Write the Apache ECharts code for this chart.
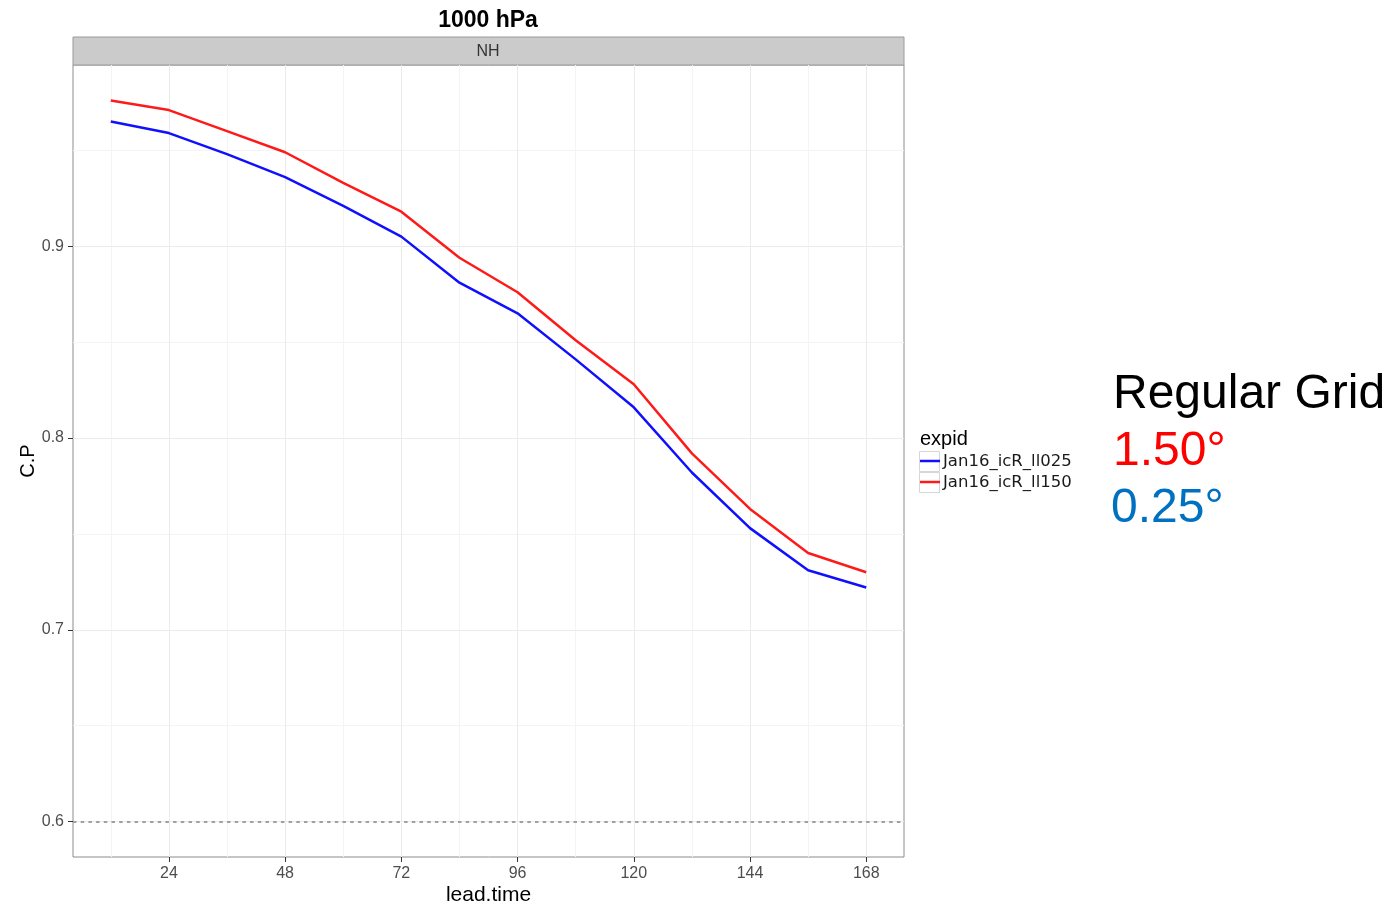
<!DOCTYPE html>
<html>
<head>
<meta charset="utf-8">
<script src="https://cdn.jsdelivr.net/npm/echarts@6/dist/echarts.min.js"></script>
<style>
  html, body { margin: 0; padding: 0; background: #fff; }
  #main { width: 1397px; height: 904px; }
</style>
</head>
<body>
<div id="main"></div>
<script>
// lead times (hours) and C.P scores
var leadTime = [12, 24, 36, 48, 60, 72, 84, 96, 108, 120, 132, 144, 156, 168];
var cpLl025 = [0.965, 0.959, 0.948, 0.936, 0.921, 0.905, 0.881, 0.865, 0.841, 0.816, 0.782, 0.753, 0.731, 0.722];
var cpLl150 = [0.976, 0.971, 0.960, 0.949, 0.933, 0.918, 0.894, 0.876, 0.851, 0.828, 0.792, 0.763, 0.740, 0.730];

var seriesNames = ['Jan16_icR_ll025', 'Jan16_icR_ll150'];
var seriesColors = ['#1010ff', '#ff1a1a'];

var xTicks = [24, 48, 72, 96, 120, 144, 168];
var xMinor = [12, 36, 60, 84, 108, 132, 156];
var yTicks = [0.6, 0.7, 0.8, 0.9];
var yMinor = [0.65, 0.75, 0.85, 0.95];
var refLine = 0.6;

var FONT = 'Liberation Sans, Arial, sans-serif';

function pairs(xs, ys) {
  return xs.map(function (x, i) { return [x, ys[i]]; });
}

// grid lines as markLines so they follow the axis scales
var gridLines = [];
xMinor.forEach(function (v) { gridLines.push({ xAxis: v, lineStyle: { color: '#f4f4f4', width: 1 } }); });
yMinor.forEach(function (v) { gridLines.push({ yAxis: v, lineStyle: { color: '#f4f4f4', width: 1 } }); });
xTicks.forEach(function (v) { gridLines.push({ xAxis: v, lineStyle: { color: '#ebebeb', width: 1 } }); });
yTicks.forEach(function (v) { gridLines.push({ yAxis: v, lineStyle: { color: '#ebebeb', width: 1 } }); });

// hand-made ggplot style legend
var legendGraphics = [{
  type: 'text', x: 920, y: 439,
  style: { text: 'expid', fontSize: 20, fill: '#000', align: 'left', verticalAlign: 'middle', fontFamily: FONT }
}];
seriesNames.forEach(function (name, i) {
  var top = 451 + i * 21;
  legendGraphics.push({
    type: 'rect', shape: { x: 919.5, y: top + 0.5, width: 20, height: 20 },
    style: { fill: '#fff', stroke: '#d6d6d6', lineWidth: 1 }
  });
  legendGraphics.push({
    type: 'line', shape: { x1: 920, y1: top + 10, x2: 940, y2: top + 10 },
    style: { stroke: seriesColors[i], lineWidth: 2.5 }
  });
  legendGraphics.push({
    type: 'text', x: 943, y: top + 11,
    style: { text: name, fontSize: 16.5, fill: '#1a1a1a', align: 'left', verticalAlign: 'middle', fontFamily: 'DejaVu Sans, sans-serif' }
  });
});

var chart = echarts.init(document.getElementById('main'));

var option = {
  backgroundColor: '#fff',
  animation: false,
  textStyle: { fontFamily: FONT },
  grid: {
    left: 73, right: 493, top: 65, bottom: 47,
    outerBoundsMode: 'none',
    containLabel: false,
    show: true, borderColor: '#8c8c8c', borderWidth: 1, backgroundColor: '#fff'
  },
  xAxis: {
    type: 'value',
    min: 4.2, max: 175.8,
    name: 'lead.time',
    nameLocation: 'middle',
    nameGap: 28,
    nameMoveOverlap: false,
    nameTextStyle: { fontSize: 21, color: '#000', fontFamily: FONT },
    axisLine: { show: false },
    axisTick: { show: true, length: 5, customValues: xTicks, lineStyle: { color: '#333', width: 1 } },
    axisLabel: { customValues: xTicks, fontSize: 16, color: '#4d4d4d', margin: 9, fontFamily: FONT },
    splitLine: { show: false }
  },
  yAxis: {
    type: 'value',
    min: 0.5815, max: 0.9945,
    name: 'C.P',
    nameLocation: 'middle',
    nameGap: 35,
    nameMoveOverlap: false,
    nameTextStyle: { fontSize: 20, color: '#000', fontFamily: FONT },
    axisLine: { show: false },
    axisTick: { show: true, length: 5, customValues: yTicks, lineStyle: { color: '#333', width: 1 } },
    axisLabel: {
      customValues: yTicks, fontSize: 16, color: '#4d4d4d', margin: 9, fontFamily: FONT,
      formatter: function (v) { return v.toFixed(1); }
    },
    splitLine: { show: false }
  },
  series: [
    {
      name: 'grid',
      type: 'line',
      data: [],
      z: 1,
      silent: true,
      markLine: {
        z: 1,
        silent: true, symbol: 'none', animation: false,
        label: { show: false },
        lineStyle: { type: 'solid' },
        data: gridLines
      }
    },
    {
      name: 'ref',
      type: 'line',
      data: [],
      z: 3,
      silent: true,
      markLine: {
        z: 3,
        silent: true, symbol: 'none', animation: false,
        label: { show: false },
        lineStyle: { color: '#a0a0a0', width: 2.2, type: [3.5, 4.2] },
        data: [{ yAxis: refLine }]
      }
    },
    {
      name: seriesNames[0],
      type: 'line',
      data: pairs(leadTime, cpLl025),
      showSymbol: false,
      symbol: 'none',
      z: 4,
      lineStyle: { color: seriesColors[0], width: 2.5 }
    },
    {
      name: seriesNames[1],
      type: 'line',
      data: pairs(leadTime, cpLl150),
      showSymbol: false,
      symbol: 'none',
      z: 4,
      lineStyle: { color: seriesColors[1], width: 2.5 }
    }
  ],
  graphic: [
    {
      type: 'text', x: 488, y: 21,
      style: { text: '1000 hPa', fontSize: 23, fontWeight: 'bold', fill: '#000', align: 'center', verticalAlign: 'middle', fontFamily: FONT }
    },
    {
      type: 'rect', shape: { x: 73, y: 37, width: 831, height: 28 },
      style: { fill: '#cbcbcb', stroke: '#9a9a9a', lineWidth: 1 }
    },
    {
      type: 'text', x: 488, y: 52,
      style: { text: 'NH', fontSize: 16, fill: '#333', align: 'center', verticalAlign: 'middle', fontFamily: FONT }
    },
    {
      type: 'text', x: 1113, y: 395,
      style: { text: 'Regular Grid', fontSize: 48, fill: '#000', align: 'left', verticalAlign: 'middle', fontFamily: FONT }
    },
    {
      type: 'text', x: 1113, y: 452,
      style: { text: '1.50°', fontSize: 48, fill: '#ff0000', align: 'left', verticalAlign: 'middle', fontFamily: FONT }
    },
    {
      type: 'text', x: 1111, y: 509,
      style: { text: '0.25°', fontSize: 48, fill: '#0070c0', align: 'left', verticalAlign: 'middle', fontFamily: FONT }
    }
  ].concat(legendGraphics)
};

chart.setOption(option);
</script>
</body>
</html>
